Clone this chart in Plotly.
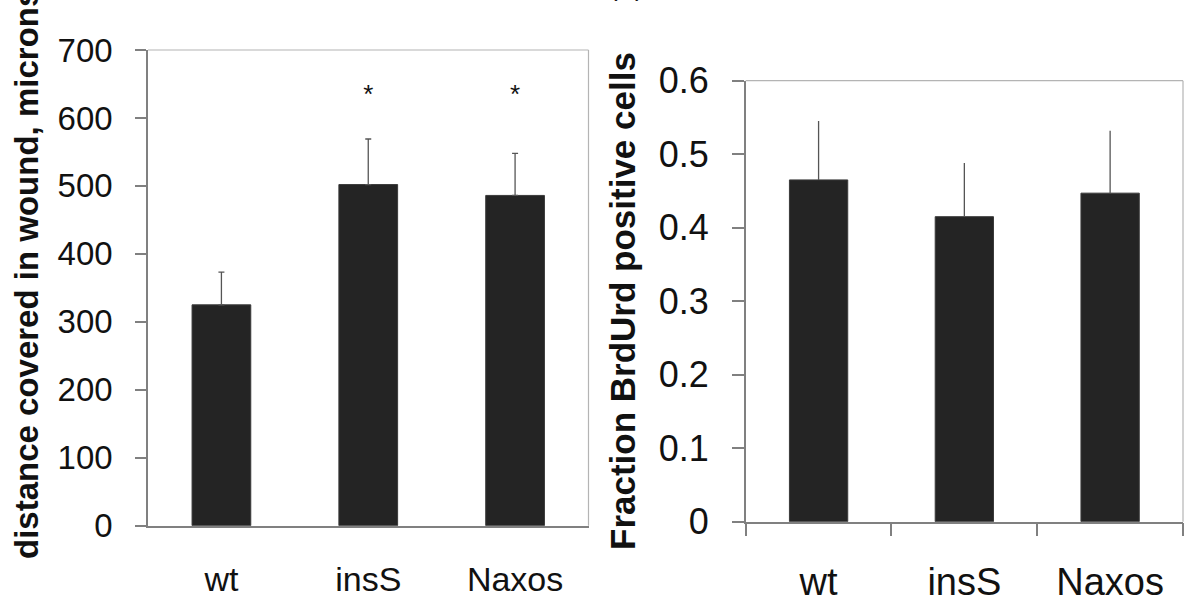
import plotly.graph_objects as go

categories = ["wt", "insS", "Naxos"]

# Left panel: distance covered in wound (microns)
dist_values = [325, 502, 486]
dist_err = [48, 67, 62]
dist_sig = ["", "*", "*"]
dist_sig_y = [None, 632, 632]

# Right panel: fraction BrdUrd positive cells
brdu_values = [0.465, 0.415, 0.447]
brdu_err = [0.080, 0.073, 0.085]

left_ticks = [0, 100, 200, 300, 400, 500, 600, 700]
right_ticks = [0, 0.1, 0.2, 0.3, 0.4, 0.5, 0.6]
right_tick_text = ["0", "0.1", "0.2", "0.3", "0.4", "0.5", "0.6"]

FONT = "Arial, 'Liberation Sans', Helvetica, sans-serif"
BAR = "#242424"
AXIS = "#808080"
FRAME = "#b4b4b4"
ERR = "#555555"

W, H = 1190, 599

fig = go.Figure()

fig.add_trace(go.Bar(
    x=categories, y=dist_values, xaxis="x", yaxis="y",
    marker=dict(color=BAR, line=dict(color="#3a3a3a", width=1)),
    error_y=dict(type="data", symmetric=False, array=dist_err,
                 arrayminus=[0] * len(dist_err), color=ERR, thickness=1.3, width=3),
    showlegend=False, hoverinfo="skip",
))
fig.add_trace(go.Scatter(
    x=categories, y=dist_sig_y, xaxis="x", yaxis="y", mode="text",
    text=dist_sig, textposition="middle center",
    textfont=dict(family=FONT, size=26, color="#111"),
    showlegend=False, hoverinfo="skip",
))
fig.add_trace(go.Bar(
    x=categories, y=brdu_values, xaxis="x2", yaxis="y2",
    marker=dict(color=BAR, line=dict(color="#3a3a3a", width=1)),
    error_y=dict(type="data", symmetric=False, array=brdu_err,
                 arrayminus=[0] * len(brdu_err), color=ERR, thickness=1.3, width=0),
    showlegend=False, hoverinfo="skip",
))

fig.update_layout(
    width=W, height=H,
    margin=dict(l=0, r=0, t=0, b=0, autoexpand=False),
    paper_bgcolor="white", plot_bgcolor="white",
    bargap=0.6,
    font=dict(family=FONT, color="#111"),
    xaxis=dict(
        domain=[148 / W, 588.5 / W], anchor="y", automargin=False,
        type="category", showline=True, linecolor=AXIS, linewidth=1.5,
        ticks="", showgrid=False, zeroline=False,
        tickfont=dict(family=FONT, size=34, color="#111"),
        ticklabelstandoff=23,
    ),
    yaxis=dict(
        domain=[(H - 525.7) / H, (H - 50) / H], anchor="x", automargin=False,
        range=[0, 700], tickvals=left_ticks,
        showline=True, linecolor=AXIS, linewidth=1.5,
        ticks="outside", ticklen=11, tickcolor=AXIS, tickwidth=1.5,
        showgrid=False, zeroline=False,
        tickfont=dict(family=FONT, size=33, color="#111"),
        ticklabelstandoff=16,
    ),
    xaxis2=dict(
        domain=[745.7 / W, 1183 / W], anchor="y2", automargin=False,
        type="category", showline=True, linecolor=AXIS, linewidth=1.5,
        ticks="outside", tickson="boundaries", ticklen=13, tickcolor=AXIS, tickwidth=1.5,
        showgrid=False, zeroline=False,
        tickfont=dict(family=FONT, size=38, color="#111"),
        ticklabelstandoff=26,
    ),
    yaxis2=dict(
        domain=[(H - 521.7) / H, (H - 80.7) / H], anchor="x2", automargin=False,
        range=[0, 0.6], tickvals=right_ticks, ticktext=right_tick_text,
        showline=True, linecolor=AXIS, linewidth=1.5,
        ticks="outside", ticklen=12, tickcolor=AXIS, tickwidth=1.5,
        showgrid=False, zeroline=False,
        tickfont=dict(family=FONT, size=36, color="#111"),
        ticklabelstandoff=16,
    ),
    shapes=[
        dict(type="line", xref="x domain", yref="y domain", x0=0, x1=1, y0=1, y1=1,
             line=dict(color=FRAME, width=1.2)),
        dict(type="line", xref="x domain", yref="y domain", x0=1, x1=1, y0=0, y1=1,
             line=dict(color=FRAME, width=1.2)),
        dict(type="line", xref="x2 domain", yref="y2 domain", x0=0, x1=1, y0=1, y1=1,
             line=dict(color=FRAME, width=1.2)),
        dict(type="line", xref="x2 domain", yref="y2 domain", x0=1, x1=1, y0=0, y1=1,
             line=dict(color=FRAME, width=1.2)),
    ],
    annotations=[
        dict(text="<b>distance covered in wound, microns</b>", textangle=-90,
             xref="paper", yref="paper", x=27 / W, y=(H - 274) / H,
             xanchor="center", yanchor="middle", showarrow=False,
             font=dict(family=FONT, size=33, color="#111")),
        dict(text="<b>Fraction BrdUrd positive cells</b>", textangle=-90,
             xref="paper", yref="paper", x=622 / W, y=(H - 301) / H,
             xanchor="center", yanchor="middle", showarrow=False,
             font=dict(family=FONT, size=35, color="#111")),
        dict(text="(B)", xref="paper", yref="paper", x=626 / W, y=1 - 4 / H,
             xanchor="center", yanchor="bottom", showarrow=False,
             font=dict(family=FONT, size=26, color="#111")),
    ],
)

fig.write_html(
    "out.html",
    config={"displayModeBar": False},
    post_script="document.body.style.margin='0';document.body.style.overflow='hidden';",
)
